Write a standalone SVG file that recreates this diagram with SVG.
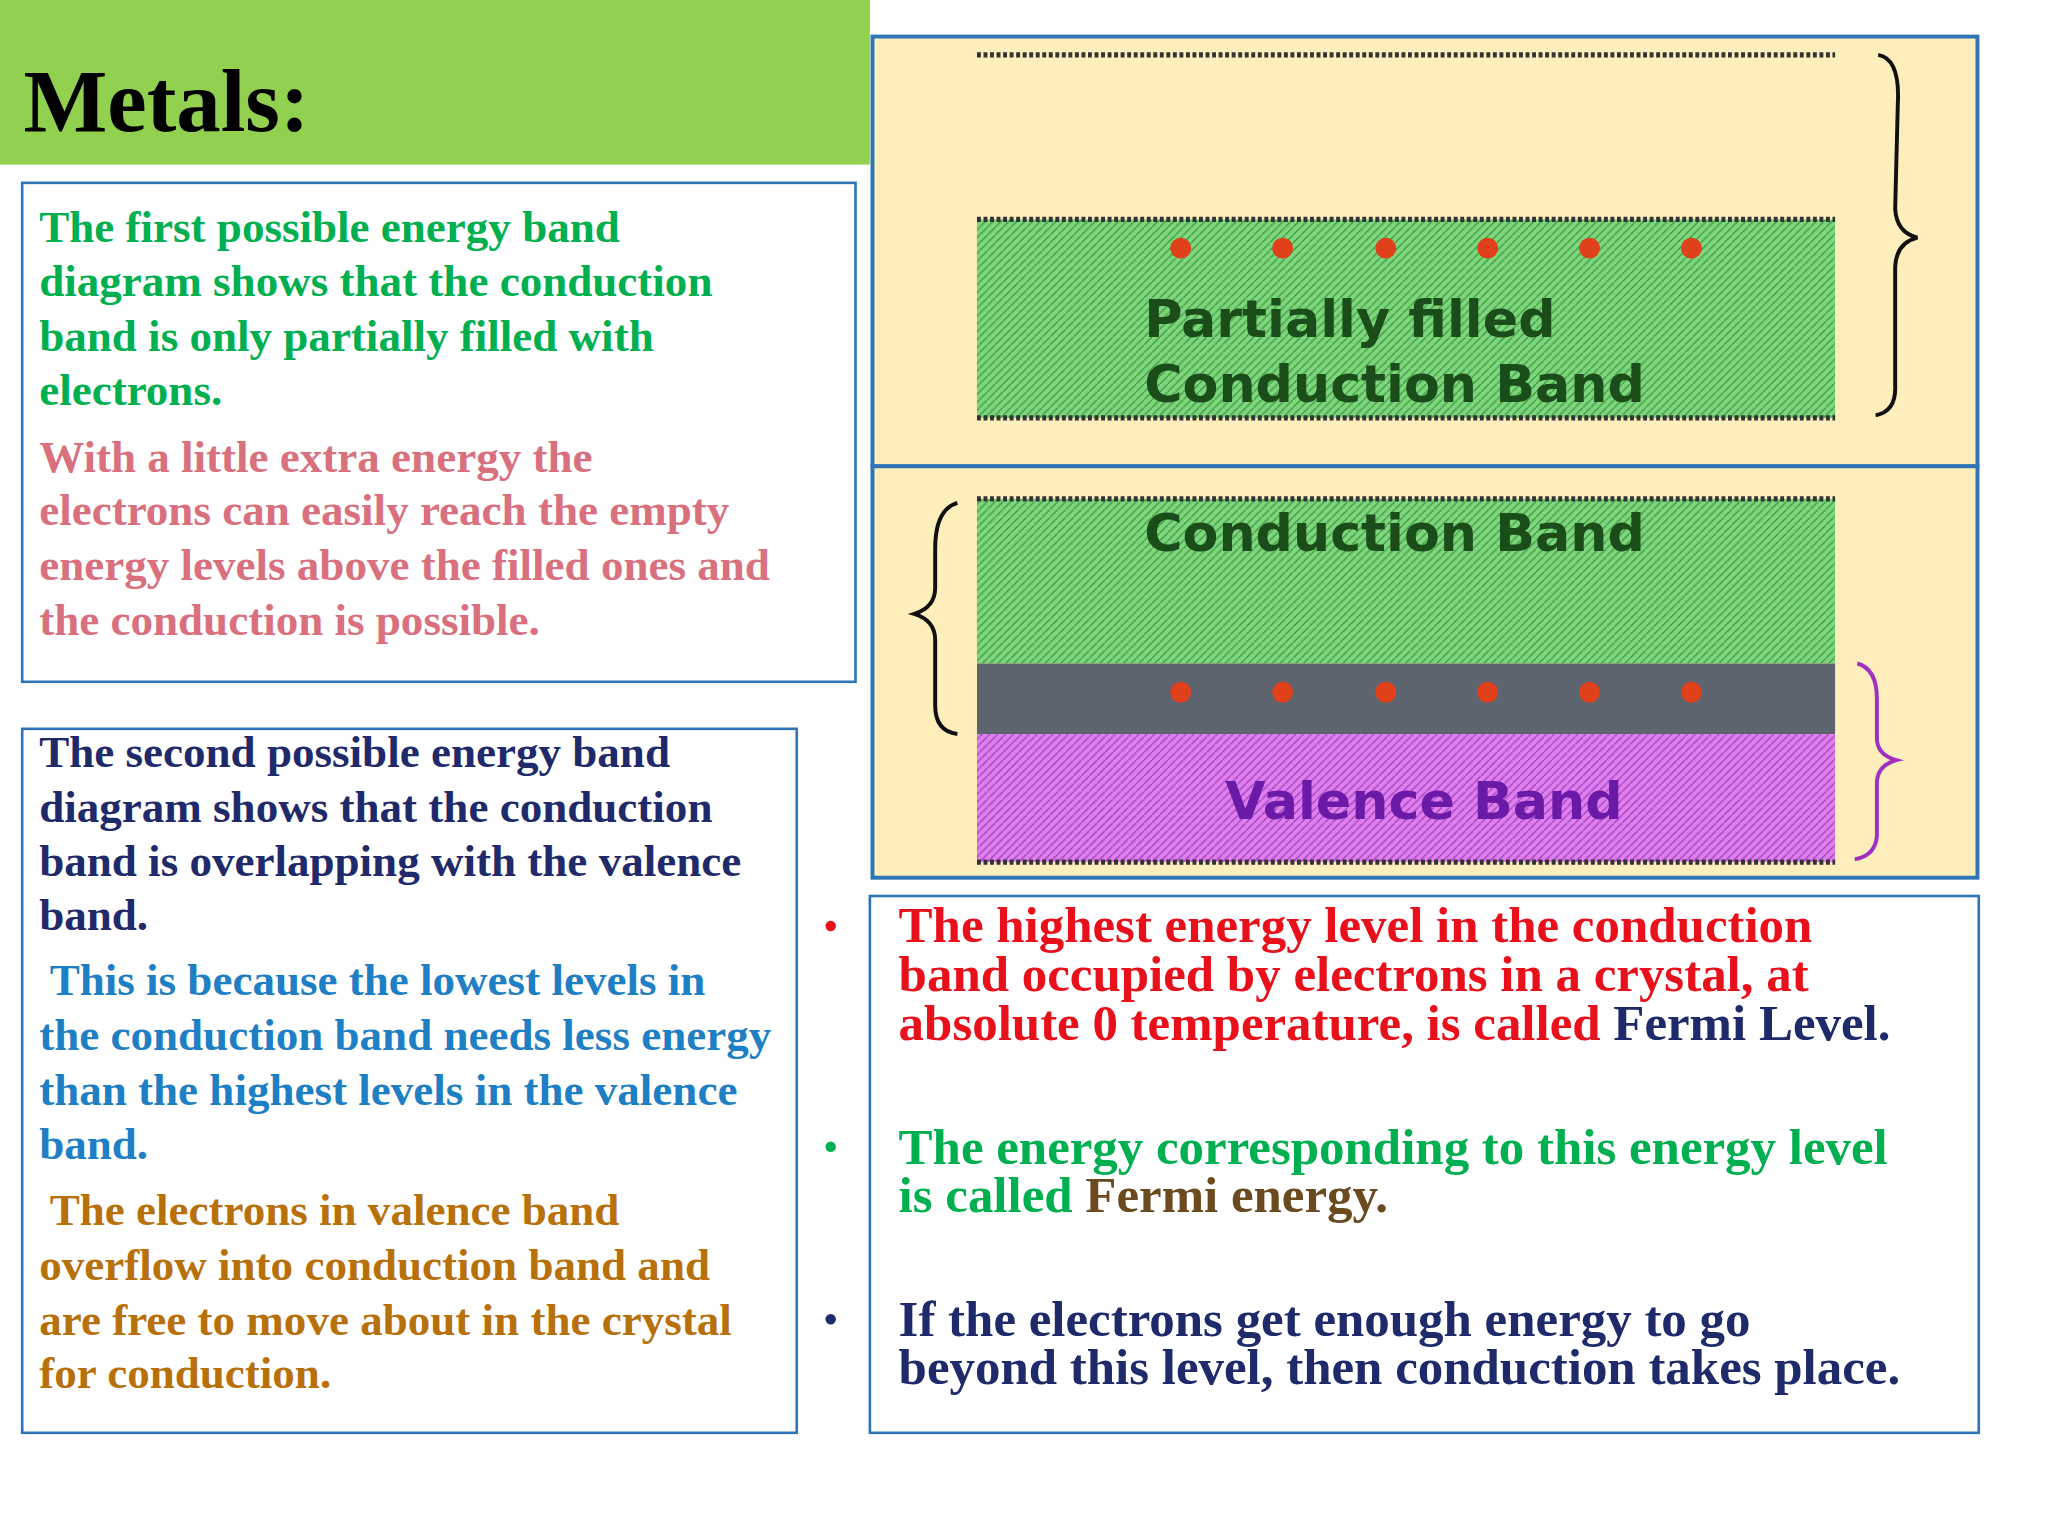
<svg xmlns="http://www.w3.org/2000/svg" width="2048" height="1536" viewBox="0 0 2048 1536">
<style>
.b{font-family:"Liberation Serif",serif;font-weight:bold;font-size:34.5px}
.r{font-family:"Liberation Serif",serif;font-weight:bold;font-size:39px}
.s{font-family:"DejaVu Sans","Liberation Sans",sans-serif;font-weight:bold;font-size:40px}
.box{fill:#fff;stroke:#2e75b6;stroke-width:2}
.dot{fill:#e0401a}
.dl{stroke:#333;stroke-width:4;stroke-dasharray:3 2}
</style>
<defs>
<pattern id="hg" width="6" height="6" patternUnits="userSpaceOnUse"><rect width="6" height="6" fill="#7fd67f"/><path d="M0 6L6 0" stroke="#3a9a3a" stroke-width="1"/></pattern>
<pattern id="hv" width="6" height="6" patternUnits="userSpaceOnUse"><rect width="6" height="6" fill="#e080f0"/><path d="M0 6L6 0" stroke="#a040b8" stroke-width="1"/></pattern>
</defs>
<rect width="2048" height="1536" fill="#fff"/>
<g transform="scale(1.30612)">
<g id="header"><rect x="0" y="0" width="666" height="126" fill="#92d050"/><text x="18" y="100" font-family="Liberation Serif,serif" font-weight="bold" font-size="68">Metals:</text></g>
<g id="box1"><rect class="box" x="17" y="140" width="638" height="382"/>
<g class="b" fill="#00b050"><text x="30" y="185">The first possible energy band</text><text x="30" y="227">diagram shows that the conduction</text><text x="30" y="269">band is only partially filled with</text><text x="30" y="310">electrons.</text></g>
<g class="b" fill="#d9707e"><text x="30" y="361">With a little extra energy the</text><text x="30" y="402">electrons can easily reach the empty</text><text x="30" y="444">energy levels above the filled ones and</text><text x="30" y="486">the conduction is possible.</text></g></g>
<g id="box2"><rect class="box" x="17" y="558" width="593" height="539"/>
<g class="b" fill="#1f2a6b"><text x="30" y="587">The second possible energy band</text><text x="30" y="629">diagram shows that the conduction</text><text x="30" y="671">band is overlapping with the valence</text><text x="30" y="712">band.</text></g>
<g class="b" fill="#1f7fc4"><text x="38" y="762">This is because the lowest levels in</text><text x="30" y="804">the conduction band needs less energy</text><text x="30" y="846">than the highest levels in the valence</text><text x="30" y="887">band.</text></g>
<g class="b" fill="#b8700a"><text x="38" y="938">The electrons in valence band</text><text x="30" y="980">overflow into conduction band and</text><text x="30" y="1022">are free to move about in the crystal</text><text x="30" y="1063">for conduction.</text></g></g>
<g id="diagram">
<rect x="668" y="28" width="846" height="329" fill="#fdeebb" stroke="#2e75b6" stroke-width="3"/>
<rect x="668" y="357" width="846" height="315" fill="#fdeebb" stroke="#2e75b6" stroke-width="3"/>
<line class="dl" x1="748" y1="42" x2="1405" y2="42"/>
<rect x="748" y="168" width="657" height="152" fill="url(#hg)"/>
<line class="dl" x1="748" y1="168" x2="1405" y2="168"/><line class="dl" x1="748" y1="320" x2="1405" y2="320"/>
<g class="dot"><circle cx="904" cy="190" r="8"/><circle cx="982" cy="190" r="8"/><circle cx="1061" cy="190" r="8"/><circle cx="1139" cy="190" r="8"/><circle cx="1217" cy="190" r="8"/><circle cx="1295" cy="190" r="8"/></g>
<text class="s" x="876" y="258" fill="#1a4d1a">Partially filled</text><text class="s" x="876" y="308" fill="#1a4d1a">Conduction Band</text>
<path d="M1438 42 Q1455 45 1453 80 L1451 160 Q1452 178 1468 182 Q1452 186 1451 204 L1451 295 Q1452 315 1436 318" fill="none" stroke="#111" stroke-width="3"/>
<rect x="748" y="382" width="657" height="126" fill="url(#hg)"/>
<rect x="748" y="508" width="657" height="54" fill="#5d6470"/>
<rect x="748" y="562" width="657" height="98" fill="url(#hv)"/>
<line class="dl" x1="748" y1="382" x2="1405" y2="382"/><line class="dl" x1="748" y1="660" x2="1405" y2="660"/>
<g class="dot"><circle cx="904" cy="530" r="8"/><circle cx="982" cy="530" r="8"/><circle cx="1061" cy="530" r="8"/><circle cx="1139" cy="530" r="8"/><circle cx="1217" cy="530" r="8"/><circle cx="1295" cy="530" r="8"/></g>
<text class="s" x="876" y="422" fill="#1a4d1a">Conduction Band</text>
<text class="s" x="938" y="627" fill="#6a1aa6">Valence Band</text>
<path d="M733 385 Q716 390 716 420 L716 450 Q716 465 700 470 Q716 475 716 490 L716 540 Q716 560 733 562" fill="none" stroke="#111" stroke-width="3"/>
<path d="M1422 508 Q1437 512 1437 535 L1437 565 Q1437 578 1452 582 Q1437 586 1437 600 L1437 640 Q1436 655 1420 658" fill="none" stroke="#a030c0" stroke-width="3"/>
</g>
<g id="box3"><rect class="box" x="666" y="686" width="849" height="411"/>
<g class="r"><circle cx="636" cy="709" r="4" fill="#e8101a"/><circle cx="636" cy="878" r="4" fill="#00b050"/><circle cx="636" cy="1010" r="4" fill="#1f2a6b"/>
<text x="688" y="721" fill="#e8101a">The highest energy level in the conduction</text>
<text x="688" y="759" fill="#e8101a">band occupied by electrons in a crystal, at</text>
<text x="688" y="796" fill="#e8101a">absolute 0 temperature, is called <tspan fill="#1f2a6b">Fermi Level.</tspan></text>
<text x="688" y="891" fill="#00b050">The energy corresponding to this energy level</text>
<text x="688" y="928" fill="#00b050">is called <tspan fill="#6b4a1f">Fermi energy.</tspan></text>
<text x="688" y="1023" fill="#1f2a6b">If the electrons get enough energy to go</text>
<text x="688" y="1060" fill="#1f2a6b">beyond this level, then conduction takes place.</text></g></g>
</g>
</svg>
